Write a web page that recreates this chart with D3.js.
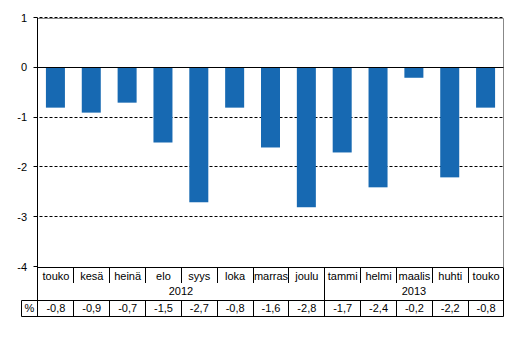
<!DOCTYPE html>
<html>
<head>
<meta charset="utf-8">
<script src="https://cdn.jsdelivr.net/npm/d3@7.9.0/dist/d3.min.js"></script>
<style>
  body { margin: 0; background: #fff; }
  svg { display: block; font-family: "Liberation Sans", Arial, sans-serif; font-size: 11px; }
</style>
</head>
<body>
<svg width="526" height="362"></svg>
<script>
// data
const months = ['touko', 'kesä', 'heinä', 'elo', 'syys', 'loka', 'marras', 'joulu', 'tammi', 'helmi', 'maalis', 'huhti', 'touko'];
const values = [-0.8, -0.9, -0.7, -1.5, -2.7, -0.8, -1.6, -2.8, -1.7, -2.4, -0.2, -2.2, -0.8];
const years = [{ label: '2012', from: 0, to: 8 }, { label: '2013', from: 8, to: 13 }];
const yTicks = [1, 0, -1, -2, -3, -4];

const svg = d3.select('svg');
const plotLeft = 37.5, plotRight = 503.5, plotTop = 18, plotBottom = 267;

const x = d3.scaleBand().domain(d3.range(months.length)).range([plotLeft, plotRight]).paddingInner(0).paddingOuter(0);
const y = d3.scaleLinear().domain([-4, 1]).range([plotBottom, plotTop]);
const fmt = v => d3.format('.1f')(v).replace('.', ',').replace('−', '-');

// gridlines
svg.append('g').selectAll('line')
  .data(yTicks.filter(t => t !== 0 && t !== -4))
  .join('line')
  .attr('x1', plotLeft - 3).attr('x2', plotRight)
  .attr('y1', d => Math.round(y(d)) - 0.5).attr('y2', d => Math.round(y(d)) - 0.5)
  .attr('stroke', '#000').attr('stroke-dasharray', '3,2');

// plot border (top/right grey)
svg.append('path')
  .attr('d', `M${plotLeft},${plotTop + 0.5}H${plotRight}V${plotBottom}`)
  .attr('fill', 'none').attr('stroke', '#888');

// bars
svg.append('g').selectAll('rect')
  .data(values)
  .join('rect')
  .attr('x', (d, i) => x(i) + x.bandwidth() / 2 - 9.5)
  .attr('width', 19)
  .attr('y', y(0))
  .attr('height', d => y(d) - y(0))
  .attr('fill', '#1769b2');

// zero line
svg.append('line')
  .attr('x1', plotLeft).attr('x2', plotRight)
  .attr('y1', Math.round(y(0)) - 0.5).attr('y2', Math.round(y(0)) - 0.5)
  .attr('stroke', '#000');

// y axis
const yAxis = svg.append('g');
yAxis.append('line')
  .attr('x1', plotLeft).attr('x2', plotLeft).attr('y1', plotTop).attr('y2', 316)
  .attr('stroke', '#000');
yAxis.selectAll('line.tick')
  .data(yTicks)
  .join('line')
  .attr('class', 'tick')
  .attr('x1', plotLeft - 4).attr('x2', plotLeft)
  .attr('y1', d => Math.round(y(d)) - 0.5).attr('y2', d => Math.round(y(d)) - 0.5)
  .attr('stroke', '#000');
yAxis.selectAll('text')
  .data(yTicks)
  .join('text')
  .attr('x', 27).attr('y', d => y(d) + 3.5)
  .attr('text-anchor', 'end')
  .text(d => String(d));

// table
const tbl = svg.append('g').attr('stroke', '#000').attr('fill', 'none');
const rowTop = 267.5, catBottom = 283, yearBottom = 300.5, dataBottom = 316.5, pctLeft = 21.5;
tbl.append('line').attr('x1', plotLeft).attr('x2', plotRight).attr('y1', rowTop).attr('y2', rowTop);
tbl.append('line').attr('x1', pctLeft).attr('x2', plotRight).attr('y1', yearBottom).attr('y2', yearBottom);
tbl.append('line').attr('x1', pctLeft).attr('x2', plotRight).attr('y1', dataBottom).attr('y2', dataBottom);
tbl.append('line').attr('x1', pctLeft).attr('x2', pctLeft).attr('y1', yearBottom).attr('y2', dataBottom);
tbl.append('line').attr('x1', plotRight).attr('x2', plotRight).attr('y1', rowTop).attr('y2', dataBottom);

// category separators
const edges = d3.range(1, months.length).map(i => Math.round(x(i)) + 0.5);
const yearEdges = years.slice(1).map(yy => Math.round(x(yy.from)) + 0.5);
tbl.selectAll('line.cat')
  .data(edges)
  .join('line')
  .attr('class', 'cat')
  .attr('x1', d => d).attr('x2', d => d)
  .attr('y1', rowTop).attr('y2', d => yearEdges.includes(d) ? yearBottom : catBottom);
tbl.selectAll('line.dat')
  .data(edges)
  .join('line')
  .attr('class', 'dat')
  .attr('x1', d => d).attr('x2', d => d)
  .attr('y1', yearBottom).attr('y2', dataBottom);

const txt = svg.append('g').attr('text-anchor', 'middle').attr('fill', '#000');
txt.selectAll('text.m')
  .data(months)
  .join('text')
  .attr('class', 'm')
  .attr('x', (d, i) => x(i) + x.bandwidth() / 2 + 0.5)
  .attr('y', 280)
  .text(d => d);
txt.selectAll('text.y')
  .data(years)
  .join('text')
  .attr('class', 'y')
  .attr('x', d => (x(d.from) + (d.to < months.length ? x(d.to) : plotRight)) / 2)
  .attr('y', 295)
  .text(d => d.label);
txt.selectAll('text.v')
  .data(values)
  .join('text')
  .attr('class', 'v')
  .attr('x', (d, i) => x(i) + x.bandwidth() / 2 + 0.5)
  .attr('y', 312)
  .text(d => fmt(d));
txt.append('text').attr('x', 29.5).attr('y', 312).text('%');
</script>
</body>
</html>
